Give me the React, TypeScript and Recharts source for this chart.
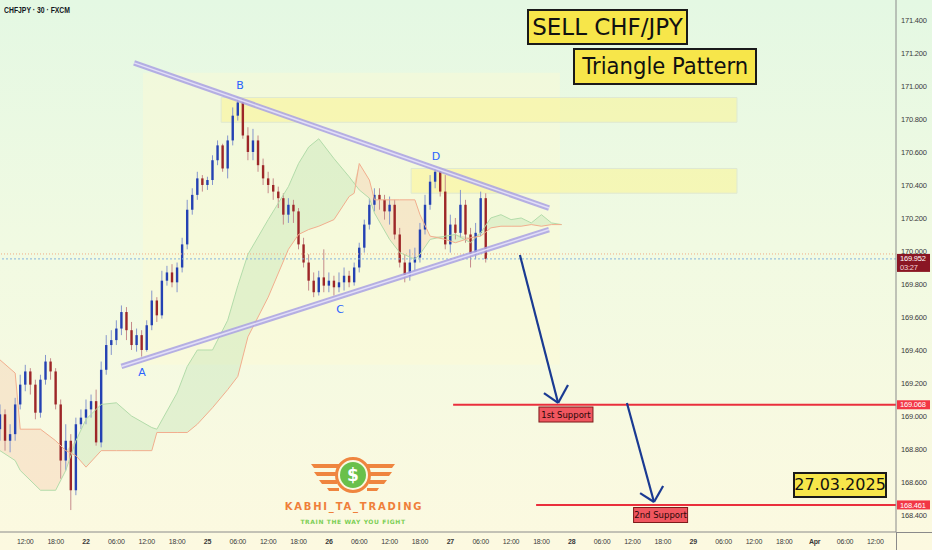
import React from 'react';
import {
    ComposedChart, Bar, Area, Line, XAxis, YAxis,
    ReferenceLine, ReferenceArea, ReferenceDot
} from 'recharts';

const W = 932;
const H = 550;
const X_MAX = 354.15; // 30-min bars visible across the plot
const Y_MIN = 168.297;
const Y_MAX = 171.521;

// time axis (one tick every 12 half-hour bars)
const timeLabels = ['12:00', '18:00', '22', '06:00', '12:00', '18:00', '25', '06:00', '12:00', '18:00', '26', '06:00', '12:00', '18:00', '27', '06:00', '12:00', '18:00', '28', '06:00', '12:00', '18:00', '29', '06:00', '12:00', '18:00', 'Apr', '06:00', '12:00'];
const dayLabels = ['22', '25', '26', '27', '28', '29', 'Apr'];
const tickBars = timeLabels.map((_, i) => 10 + 12 * i);
const priceTicks = [168.4, 168.6, 168.8, 169.0, 169.2, 169.4, 169.6, 169.8, 170.0, 170.2, 170.4, 170.6, 170.8, 171.0, 171.2, 171.4];

// hourly candles
const candleOpen = [168.92, 169.01, 168.85, 168.89, 169.07, 169.19, 169.27, 169.19, 169.02, 169.22, 169.33, 169.27, 169.07, 168.73, 168.85, 168.55, 168.95, 168.99, 169.04, 169.09, 168.84, 169.28, 169.43, 169.46, 169.53, 169.63, 169.52, 169.43, 169.49, 169.40, 169.55, 169.70, 169.61, 169.82, 169.87, 169.81, 169.90, 170.04, 170.25, 170.34, 170.44, 170.40, 170.43, 170.55, 170.64, 170.50, 170.67, 170.82, 170.90, 170.70, 170.60, 170.67, 170.52, 170.44, 170.40, 170.36, 170.32, 170.22, 170.28, 170.24, 170.04, 169.93, 169.82, 169.75, 169.84, 169.79, 169.82, 169.78, 169.81, 169.85, 169.81, 169.90, 170.02, 170.16, 170.28, 170.34, 170.31, 170.24, 170.28, 170.10, 169.93, 169.85, 169.93, 169.96, 170.13, 170.28, 170.42, 170.48, 170.36, 170.04, 170.16, 170.11, 170.28, 170.10, 169.98, 170.11, 170.32];
const candleHigh = [169.07, 169.04, 168.95, 169.11, 169.25, 169.31, 169.29, 169.22, 169.25, 169.37, 169.35, 169.29, 169.10, 168.95, 168.89, 168.99, 169.04, 169.10, 169.13, 169.16, 169.33, 169.49, 169.52, 169.58, 169.67, 169.66, 169.57, 169.53, 169.52, 169.58, 169.76, 169.72, 169.88, 169.91, 169.92, 169.93, 170.08, 170.31, 170.38, 170.48, 170.46, 170.45, 170.58, 170.67, 170.65, 170.70, 170.87, 170.93, 170.92, 170.75, 170.74, 170.70, 170.56, 170.48, 170.44, 170.39, 170.35, 170.32, 170.31, 170.26, 170.08, 169.98, 169.87, 169.88, 170.01, 169.87, 169.85, 169.87, 169.90, 169.88, 169.93, 170.05, 170.19, 170.32, 170.38, 170.38, 170.34, 170.33, 170.31, 170.14, 169.98, 170.01, 170.02, 170.17, 170.34, 170.46, 170.50, 170.49, 170.46, 170.22, 170.20, 170.37, 170.31, 170.14, 170.17, 170.36, 170.35];
const candleLow = [168.85, 168.79, 168.78, 168.85, 169.04, 169.15, 169.13, 168.98, 168.99, 169.19, 169.22, 169.04, 168.62, 168.67, 168.43, 168.52, 168.92, 168.95, 168.99, 168.82, 168.81, 169.25, 169.37, 169.43, 169.49, 169.46, 169.40, 169.39, 169.36, 169.39, 169.52, 169.57, 169.59, 169.79, 169.78, 169.75, 169.87, 170.01, 170.22, 170.31, 170.36, 170.37, 170.40, 170.52, 170.48, 170.44, 170.64, 170.79, 170.68, 170.55, 170.55, 170.48, 170.40, 170.35, 170.31, 170.26, 170.16, 170.17, 170.17, 170.01, 169.90, 169.76, 169.72, 169.73, 169.75, 169.75, 169.73, 169.75, 169.76, 169.78, 169.79, 169.87, 169.99, 170.13, 170.24, 170.25, 170.19, 170.16, 170.07, 169.90, 169.81, 169.82, 169.88, 169.93, 170.10, 170.25, 170.38, 170.33, 170.01, 169.99, 170.07, 170.08, 170.05, 169.90, 169.95, 170.09, 169.93];
const candleClose = [169.01, 168.85, 168.89, 169.07, 169.19, 169.27, 169.19, 169.02, 169.22, 169.33, 169.27, 169.07, 168.73, 168.85, 168.55, 168.95, 168.99, 169.04, 169.09, 168.84, 169.28, 169.43, 169.46, 169.53, 169.63, 169.52, 169.43, 169.49, 169.40, 169.55, 169.70, 169.61, 169.82, 169.87, 169.81, 169.90, 170.04, 170.25, 170.34, 170.44, 170.40, 170.43, 170.55, 170.64, 170.50, 170.67, 170.82, 170.90, 170.70, 170.60, 170.67, 170.52, 170.44, 170.40, 170.36, 170.32, 170.22, 170.28, 170.24, 170.04, 169.93, 169.82, 169.75, 169.84, 169.79, 169.82, 169.78, 169.81, 169.85, 169.81, 169.90, 170.02, 170.16, 170.28, 170.34, 170.31, 170.24, 170.28, 170.10, 169.93, 169.85, 169.93, 169.96, 170.13, 170.28, 170.42, 170.48, 170.36, 170.04, 170.16, 170.11, 170.28, 170.10, 169.98, 170.11, 170.32, 169.952];

// ichimoku cloud spans (bar index, span A, span B)
const cloudBars = [0, 6, 8, 16, 22, 26, 30, 34, 40, 46, 52, 60, 62, 70, 74, 78, 84, 90, 94, 98, 106, 114, 118, 122, 126, 132, 138, 140, 142, 146, 148, 154, 158, 164, 166, 170, 176, 180, 186, 190, 194, 198, 202, 206, 210, 214, 218, 222];
const spanA = [168.79, 168.73, 168.67, 168.55, 168.55, 168.67, 168.85, 168.98, 169.07, 169.08, 169.00, 168.93, 168.92, 169.14, 169.30, 169.40, 169.40, 169.58, 169.79, 169.98, 170.19, 170.39, 170.53, 170.63, 170.68, 170.56, 170.45, 170.41, 170.37, 170.32, 170.23, 170.07, 169.99, 169.95, 169.98, 170.07, 170.09, 170.10, 170.05, 170.11, 170.20, 170.22, 170.19, 170.20, 170.17, 170.22, 170.17, 170.16];
const spanB = [169.34, 169.26, 168.92, 168.92, 168.85, 168.79, 168.76, 168.69, 168.79, 168.79, 168.79, 168.79, 168.90, 168.90, 168.90, 168.95, 169.05, 169.16, 169.24, 169.48, 169.72, 170.01, 170.10, 170.13, 170.15, 170.19, 170.33, 170.35, 170.53, 170.43, 170.31, 170.31, 170.31, 170.31, 170.22, 170.09, 170.07, 170.05, 170.08, 170.09, 170.14, 170.15, 170.15, 170.15, 170.16, 170.15, 170.16, 170.16];

// drawings
const upperTrend = [{ x: 53, y: 171.14 }, { x: 217, y: 170.26 }];
const lowerTrend = [{ x: 48, y: 169.30 }, { x: 217, y: 170.13 }];
const zones = [
    { x1: 87.4, x2: 291.3, y1: 170.78, y2: 170.93 },
    { x1: 162.5, x2: 291.3, y1: 170.35, y2: 170.50 },
];
const supports = [
    { price: 169.068, from: 179.1, label: '1st Support', lx: 223.7, ly: 169.009 },
    { price: 168.461, from: 211.9, label: '2nd Support', lx: 261.1, ly: 168.400 },
];
const arrows = [
    { from: { x: 205.5, y: 169.976 }, to: { x: 220.6, y: 169.079 }, w1: { x: 215.0, y: 169.139 }, w2: { x: 224.5, y: 169.188 } },
    { from: { x: 247.8, y: 169.079 }, to: { x: 258.5, y: 168.479 }, w1: { x: 253.0, y: 168.533 }, w2: { x: 262.1, y: 168.576 } },
];
const points = [
    { name: 'A', x: 56.1, y: 169.266 },
    { name: 'B', x: 94.9, y: 171.006 },
    { name: 'C', x: 134.4, y: 169.648 },
    { name: 'D', x: 172.3, y: 170.576 },
];
const lastPrice = 169.952;
const prevLine = 169.982;

// merge everything into one table keyed by bar index
const rowMap = new Map<number, any>();
const row = (x: number) => {
    if (!rowMap.has(x)) rowMap.set(x, { x });
    return rowMap.get(x);
};
candleClose.forEach((c, k) => {
    Object.assign(row(2 * k), { open: candleOpen[k], high: candleHigh[k], low: candleLow[k], close: c });
});
cloudBars.forEach((b, i) => {
    const a = spanA[i];
    const s = spanB[i];
    Object.assign(row(b), { spanA: a, spanB: s, green: [s, Math.max(a, s)], red: [a, Math.max(a, s)] });
});
const data = [...rowMap.values()].sort((p, q) => p.x - q.x);

const candleRange = (d: any) => (d.high != null ? [d.low, d.high] : null);

const Candle = (props: any) => {
    const { x, y, width, height, payload } = props;
    if (!payload || payload.high == null || x == null) return null;
    const top = Math.min(y, y + height);
    const h = Math.abs(height);
    const span = payload.high - payload.low;
    const k = span > 0 ? h / span : 0;
    const yo = top + (payload.high - payload.open) * k;
    const yc = top + (payload.high - payload.close) * k;
    const up = payload.close >= payload.open;
    const cx = x + width / 2;
    return (
        <g>
            <line x1={cx} x2={cx} y1={top} y2={top + h} stroke={up ? '#8596cc' : '#c58a8a'} strokeWidth={1} />
            <rect x={cx - 1.2} y={Math.min(yo, yc)} width={2.4} height={Math.max(1, Math.abs(yc - yo))} fill={up ? '#2441b3' : '#9d2628'} />
        </g>
    );
};

const axisFont = '"Liberation Sans", Arial, sans-serif';

const TimeTick = (props: any) => {
    const { x, y, payload } = props;
    const label = timeLabels[tickBars.indexOf(payload.value)];
    const bold = dayLabels.includes(label);
    return (
        <text x={x} y={y + 11.5} textAnchor="middle" fontSize={7} letterSpacing={-0.2}
            fontWeight={bold ? 700 : 400} fill="#3a3a3a" fontFamily={axisFont}>{label}</text>
    );
};

const PriceTick = (props: any) => {
    const { x, y, payload } = props;
    return (
        <text x={x + 5} y={y} dy="0.35em" textAnchor="start" fontSize={7.5} letterSpacing={-0.2}
            fill="#3a3a3a" fontFamily={axisFont}>{Number(payload.value).toFixed(3)}</text>
    );
};

const priceTag = (text: string, fill: string) => (p: any) => (
    <g>
        <rect x={p.cx + 1} y={p.cy - 4.5} width={33} height={9} fill={fill} />
        <text x={p.cx + 4} y={p.cy + 2.6} fontSize={7.5} fill="#fff" fontFamily={axisFont} letterSpacing={-0.2}>{text}</text>
    </g>
);

const lastTag = (p: any) => (
    <g>
        <rect x={p.cx + 1} y={p.cy - 5} width={33} height={18} fill="#8a1624" />
        <text x={p.cx + 4} y={p.cy + 2.5} fontSize={7.5} fill="#fff" fontFamily={axisFont} letterSpacing={-0.2}>{lastPrice.toFixed(3)}</text>
        <text x={p.cx + 4} y={p.cy + 11} fontSize={7.5} fill="#f3d5d8" fontFamily={axisFont} letterSpacing={-0.2}>03:27</text>
    </g>
);

const supportLabel = (text: string) => (p: any) => (
    <g>
        <rect x={p.cx - 27} y={p.cy - 7.5} width={54} height={15} fill="#f0565f" stroke="#7d1b1b" strokeWidth={1} />
        <text x={p.cx} y={p.cy + 3} textAnchor="middle" fontSize={8.5} fill="#2a0808" fontFamily='"DejaVu Sans", sans-serif'>{text}</text>
    </g>
);

const pointLabel = (text: string) => (p: any) => (
    <text x={p.cx} y={p.cy} dy="0.35em" textAnchor="middle" fontSize={11} fill="#2962ff" fontFamily='"DejaVu Sans", sans-serif'>{text}</text>
);

const boxStyle = (left: number, top: number, width: number, height: number, fontSize: number): React.CSSProperties => ({
    position: 'absolute', left, top, width, height, boxSizing: 'border-box',
    background: '#f7e64a', border: '2px solid #1a1a1a',
    display: 'flex', alignItems: 'center', justifyContent: 'center',
    fontFamily: '"DejaVu Sans", sans-serif', fontSize, color: '#111', lineHeight: 1, whiteSpace: 'nowrap',
});

const orange = '#ef853f';

export default function App() {
    return (
        <div style={{
            position: 'absolute', left: 0, top: 0, width: W, height: H, overflow: 'hidden',
            background: 'linear-gradient(180deg, #e4f8e3 0%, #f1fae2 45%, #fcf9e0 100%)'
        }}>
            <ComposedChart width={W} height={H} data={data} margin={{ top: 0, right: 0, bottom: 0, left: 0 }}>
                <XAxis type="number" dataKey="x" domain={[0, X_MAX]} ticks={tickBars} interval={0} height={18}
                    allowDataOverflow tickLine={false} tickSize={0} tickMargin={0}
                    axisLine={{ stroke: '#8a8a8a' }} tick={(p: any) => <TimeTick {...p} />} />
                <YAxis type="number" orientation="right" width={36} domain={[Y_MIN, Y_MAX]} ticks={priceTicks}
                    interval={0} allowDataOverflow tickLine={false} tickSize={0} tickMargin={0}
                    axisLine={{ stroke: '#8a8a8a' }} tick={(p: any) => <PriceTick {...p} />} />

                {/* faint pattern box */}
                <ReferenceArea x1={56.5} x2={221.3} y1={169.31} y2={171.08} fill="#fffbd2" fillOpacity={0.4} stroke="none" />

                {/* ichimoku cloud */}
                <Area type="linear" dataKey="green" connectNulls stroke="none" fill="#9fd49a" fillOpacity={0.24}
                    dot={false} activeDot={false} isAnimationActive={false} />
                <Area type="linear" dataKey="red" connectNulls stroke="none" fill="#f4a98a" fillOpacity={0.22}
                    dot={false} activeDot={false} isAnimationActive={false} />
                <Line type="linear" dataKey="spanA" connectNulls stroke="#b3dcaa" strokeWidth={1} dot={false}
                    activeDot={false} isAnimationActive={false} />
                <Line type="linear" dataKey="spanB" connectNulls stroke="#f2ae8e" strokeWidth={1} dot={false}
                    activeDot={false} isAnimationActive={false} />

                {/* supply zones */}
                {zones.map((z, i) => (
                    <ReferenceArea key={'z' + i} x1={z.x1} x2={z.x2} y1={z.y1} y2={z.y2}
                        fill="#fff27a" fillOpacity={0.42} stroke="#dfe9d2" strokeWidth={1} />
                ))}

                <ReferenceLine y={prevLine} stroke="#f0ad85" strokeDasharray="1 2" strokeWidth={1} />
                <ReferenceLine y={lastPrice} stroke="#86b4de" strokeDasharray="2 2" strokeWidth={1} />

                <Bar dataKey={candleRange} barSize={3} shape={Candle} isAnimationActive={false} />

                {/* triangle trendlines */}
                {[upperTrend, lowerTrend].map((t, i) => (
                    <ReferenceLine key={'t' + i} segment={t} stroke="#a9a1e3" strokeOpacity={0.85} strokeWidth={5.5} />
                ))}
                {[upperTrend, lowerTrend].map((t, i) => (
                    <ReferenceLine key={'ti' + i} segment={t} stroke="#e2def8" strokeWidth={1.5} />
                ))}

                {/* supports */}
                {supports.map((s, i) => (
                    <ReferenceLine key={'s' + i} segment={[{ x: s.from, y: s.price }, { x: X_MAX, y: s.price }]}
                        stroke="#ea2f3c" strokeWidth={2} />
                ))}

                {/* projection arrows */}
                {arrows.map((a, i) => (
                    <ReferenceLine key={'a' + i} segment={[a.from, a.to]} stroke="#1a3a92" strokeWidth={2.2} />
                ))}
                {arrows.map((a, i) => (
                    <ReferenceLine key={'aw' + i} segment={[a.w1, a.to]} stroke="#1a3a92" strokeWidth={2.2} />
                ))}
                {arrows.map((a, i) => (
                    <ReferenceLine key={'ax' + i} segment={[a.w2, a.to]} stroke="#1a3a92" strokeWidth={2.2} />
                ))}

                {points.map((p) => (
                    <ReferenceDot key={p.name} x={p.x} y={p.y} r={1} shape={pointLabel(p.name)} />
                ))}
                {supports.map((s, i) => (
                    <ReferenceDot key={'sl' + i} x={s.lx} y={s.ly} r={1} shape={supportLabel(s.label)} />
                ))}
                {supports.map((s, i) => (
                    <ReferenceDot key={'pt' + i} x={X_MAX} y={s.price} r={1} shape={priceTag(s.price.toFixed(3), '#f23645')} />
                ))}
                <ReferenceDot x={X_MAX} y={lastPrice} r={1} shape={lastTag} />
            </ComposedChart>

            {/* axis line remainders */}
            <div style={{ position: 'absolute', left: 896, top: 532, width: 36, height: 1, background: '#8a8a8a' }} />
            <div style={{ position: 'absolute', left: 895.5, top: 532, width: 1, height: 18, background: '#8a8a8a' }} />

            <div style={{
                position: 'absolute', left: 4, top: 5, fontFamily: axisFont, fontWeight: 700, fontSize: 9,
                color: '#131722', transform: 'scaleX(0.76)', transformOrigin: 'left top', whiteSpace: 'nowrap'
            }}>CHFJPY · 30 · FXCM</div>

            <div style={boxStyle(527, 9, 161, 36, 23)}>SELL CHF/JPY</div>
            <div style={boxStyle(573, 48, 184, 37, 23)}>
                <span style={{ display: 'inline-block', transform: 'scaleX(0.92)' }}>Triangle Pattern</span>
            </div>
            <div style={boxStyle(793, 472, 94, 26, 16)}>27.03.2025</div>

            {/* logo */}
            <svg width={W} height={H} style={{ position: 'absolute', left: 0, top: 0, pointerEvents: 'none' }}>
                {[0, 1].map((side) => {
                    const f = (x: number) => (side === 0 ? x : 706 - x);
                    return (
                        <g key={side} fill={orange}>
                            <polygon points={`${f(311)},464 ${f(340)},464 ${f(340)},468 ${f(314)},468`} />
                            <polygon points={`${f(314)},472 ${f(337)},472 ${f(337)},476 ${f(317)},476`} />
                            <polygon points={`${f(319)},480 ${f(337)},480 ${f(337)},484 ${f(322)},484`} />
                            <polygon points={`${f(327)},488 ${f(339)},488 ${f(339)},491 ${f(329)},491`} />
                        </g>
                    );
                })}
                <circle cx={353} cy={475} r={16.5} fill="none" stroke={orange} strokeWidth={3} />
                <circle cx={353} cy={475} r={13} fill="#69c04b" />
                <text x={353} y={481} textAnchor="middle" fontSize={17} fontWeight={700} fill="#fff"
                    fontFamily='"DejaVu Sans", sans-serif'>$</text>
                <text x={354} y={510} textAnchor="middle" fontSize={10} fontWeight={700} letterSpacing={1.8}
                    fill="#ef7f3a" fontFamily='"DejaVu Sans", sans-serif'>KABHI_TA_TRADING</text>
                <text x={353} y={524} textAnchor="middle" fontSize={6} fontWeight={700} letterSpacing={0.6}
                    fill="#7ccf55" fontFamily='"DejaVu Sans", sans-serif'>TRAIN THE WAY YOU FIGHT</text>
            </svg>
        </div>
    );
}
